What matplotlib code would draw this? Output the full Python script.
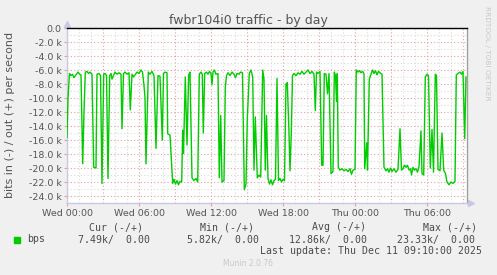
import matplotlib
matplotlib.use("Agg")
import matplotlib.pyplot as plt
from matplotlib.patches import Rectangle
from matplotlib.ticker import FixedLocator, FuncFormatter

# minutes since Wed 00:00, inbound traffic in k bits/s (drawn negative)
minutes = [
    0, 5, 12.5, 20, 27.5, 35, 42.5, 50, 55, 62.5, 70, 78.5, 85, 91.5, 100, 107.5,
    115, 125, 133.5, 145, 150, 160, 167.5, 175, 183.5, 190, 197.5, 205, 213.5, 220,
    225, 232.5, 240, 250, 260, 270, 275, 282.5, 290, 300, 310, 316.5, 325, 332.5,
    340, 350, 360, 370, 377.5, 385, 390, 395, 406.5, 415, 425, 435, 445, 455, 465,
    476.5, 482.5, 490, 500, 503.5, 515, 528.5, 535, 542.5, 550, 557.5, 565, 573.5,
    578.5, 582.5, 591.5, 600, 608.5, 615, 625, 635, 645, 653.5, 661.5, 670, 676.5,
    681.5, 688.5, 697.5, 705, 712.5, 720, 725, 730, 736.5, 745, 755, 761.5, 768.5,
    775, 785, 791.5, 797.5, 805, 815, 825, 835, 842.5, 850, 860, 867.5, 877.5,
    886.5, 895, 901.5, 911.5, 920, 928.5, 935, 941.5, 951.5, 960, 968.5, 978.5, 985,
    991.5, 997.5, 1005, 1012.5, 1020, 1027.5, 1035, 1042.5, 1050, 1057.5, 1065,
    1072.5, 1080, 1087.5, 1095, 1101.5, 1110, 1115, 1121.5, 1127.5, 1135, 1145,
    1155, 1165, 1175, 1185, 1195, 1205, 1215, 1225, 1235, 1241.5, 1247.5, 1255,
    1265, 1273.5, 1280, 1286.5, 1295, 1302.5, 1310, 1320, 1330, 1336.5, 1342.5,
    1347.5, 1351.5, 1356.5, 1365, 1375, 1385, 1395, 1405, 1415, 1422.5, 1430, 1440,
    1446.5, 1455, 1462.5, 1470, 1477.5, 1485, 1488.5, 1498.5, 1502.5, 1511.5, 1520,
    1527.5, 1535, 1542.5, 1550, 1557.5, 1565, 1575, 1585, 1595, 1602.5, 1610,
    1617.5, 1625, 1635, 1645, 1655, 1665, 1672.5, 1680, 1687.5, 1695, 1702.5, 1710,
    1717.5, 1722.5, 1730, 1737.5, 1745, 1752.5, 1760, 1770, 1775, 1783.5, 1791.5,
    1800, 1807.5, 1816.5, 1825, 1832.5, 1841.5, 1847.5, 1855, 1865, 1875, 1883.5,
    1892.5, 1900, 1910, 1920, 1930, 1940, 1946.5, 1955, 1965, 1972.5, 1980, 1988.5,
    1995,
]
bps_in_k = [
    -15.6, -10.0, -6.5, -6.8, -6.6, -7.1, -6.8, -6.5, -6.3, -6.6, -6.7, -19.4, -12.0,
    -6.3, -6.2, -6.5, -6.3, -6.6, -19.9, -20.0, -6.6, -6.5, -6.8, -22.2, -6.6, -6.5,
    -6.8, -21.5, -6.8, -6.5, -7.3, -6.8, -6.3, -6.6, -6.4, -6.6, -14.4, -6.5, -6.3,
    -6.6, -6.4, -11.7, -6.6, -7.0, -6.7, -6.3, -6.5, -6.0, -6.3, -8.2, -10.0, -19.4,
    -6.3, -6.6, -6.2, -6.8, -17.2, -6.8, -6.9, -16.0, -6.5, -6.3, -6.4, -15.1, -15.3,
    -22.2, -21.6, -22.3, -21.8, -22.4, -21.9, -22.0, -14.6, -17.9, -7.0, -16.7, -6.7,
    -6.3, -21.4, -21.8, -21.5, -22.0, -6.6, -6.3, -6.6, -15.0, -6.5, -6.3, -6.6,
    -6.2, -6.5, -8.1, -6.3, -6.0, -6.6, -6.5, -21.4, -12.5, -22.0, -21.8, -8.5, -6.8,
    -6.4, -6.8, -6.3, -6.6, -7.1, -6.5, -6.6, -6.3, -6.4, -23.1, -22.3, -13.0, -6.5,
    -6.0, -7.0, -20.3, -12.7, -21.4, -21.0, -21.3, -6.0, -7.3, -20.3, -12.5, -21.5,
    -22.3, -21.7, -22.4, -21.8, -21.6, -7.2, -21.8, -21.5, -22.0, -21.6, -21.8, -8.0,
    -7.8, -15.0, -20.4, -15.0, -6.8, -6.5, -6.8, -6.4, -6.6, -6.2, -6.6, -6.3, -6.0,
    -6.5, -6.2, -6.6, -11.8, -6.3, -6.5, -6.2, -19.6, -19.6, -6.5, -6.6, -9.4, -6.5,
    -20.8, -20.5, -6.3, -6.8, -10.5, -6.5, -19.9, -20.3, -20.1, -20.4, -20.2, -20.5,
    -20.1, -20.9, -20.3, -20.2, -6.0, -6.3, -6.1, -6.4, -6.2, -6.5, -20.1, -16.4,
    -20.3, -7.3, -6.6, -6.0, -6.5, -6.1, -6.7, -6.2, -6.4, -6.6, -19.9, -20.4, -20.1,
    -20.6, -20.0, -20.5, -20.1, -20.6, -20.2, -14.4, -20.3, -20.1, -19.6, -19.9,
    -19.6, -20.3, -20.1, -21.0, -19.9, -20.3, -20.1, -20.6, -19.8, -14.7, -20.8,
    -21.0, -7.0, -6.6, -6.8, -20.0, -14.5, -20.6, -6.6, -6.8, -20.2, -20.4, -15.0,
    -20.3, -20.8, -22.0, -22.4, -22.0, -22.2, -21.9, -6.7, -6.5, -6.3, -6.6, -6.2,
    -15.8, -7.0,
]
x_tick_pos = [0, 360, 720, 1080, 1440, 1800]
x_tick_labels = ["Wed 00:00", "Wed 06:00", "Wed 12:00", "Wed 18:00", "Thu 00:00", "Thu 06:00"]

legend_cols = ["Cur (-/+)", "Min (-/+)", "Avg (-/+)", "Max (-/+)"]
legend_vals = ["7.49k/  0.00", "5.82k/  0.00", "12.86k/  0.00", "23.33k/  0.00"]

W, H = 497, 275
TXT = "#555555"
GREEN = "#00cc00"
MINOR = "#dadada"
MAJOR = "#e3a0a0"
AXIS = "#c8c8e4"


def px(x, y):
    return x / W, 1 - y / H


fig = plt.figure(figsize=(W / 100, H / 100), dpi=100, facecolor="#f0f0f0")
ax = fig.add_axes([67 / W, 1 - 203 / H, 400 / W, 175 / H])
ax.set_facecolor("white")
ax.set_xlim(0, 2000)
ax.set_ylim(-25000, 0)

# grid: minor every hour / 1k, major every 3 hours / 2k
for m in range(60, 2000, 60):
    ax.axvline(m, color=MAJOR if m % 180 == 0 else MINOR, lw=0.8,
               ls=(0, (1, 2)), zorder=1)
for v in range(-24000, 0, 1000):
    ax.axhline(v, color=MAJOR if v % 2000 == 0 else MINOR, lw=0.8,
               ls=(0, (1, 2)), zorder=1)

ax.plot(minutes, [v * 1000 for v in bps_in_k], color=GREEN, lw=1.0, zorder=3)
ax.axhline(0, color="black", lw=1.0, zorder=4, clip_on=False)

ax.xaxis.set_major_locator(FixedLocator(x_tick_pos))
ax.set_xticklabels(x_tick_labels)
ax.yaxis.set_major_locator(FixedLocator(list(range(-24000, 1, 2000))))
ax.yaxis.set_major_formatter(
    FuncFormatter(lambda v, p: "0.0" if v == 0 else f"{v / 1000:.1f} k"))
ax.tick_params(axis="both", labelsize=6.8, labelcolor=TXT, length=2,
               color=MAJOR, pad=2)

for s in ("top",):
    ax.spines[s].set_visible(False)
ax.spines["left"].set_color(AXIS)
ax.spines["bottom"].set_color(AXIS)
ax.spines["right"].set_color("#a0a0a0")
for s in ("left", "bottom", "right"):
    ax.spines[s].set_linewidth(1.0)
ax.plot([0], [1.025], marker="^", ms=4, color=AXIS, transform=ax.transAxes,
        clip_on=False)
ax.plot([1.01], [0], marker=">", ms=4, color=AXIS, transform=ax.transAxes,
        clip_on=False)

fig.text(*px(248, 24), "fwbr104i0 traffic - by day", ha="center", va="baseline",
         fontsize=9, color=TXT)
fig.text(*px(10.5, 115), "bits in (-) / out (+) per second", rotation=90,
         ha="center", va="center", fontsize=8, color=TXT)
fig.text(*px(487.5, 53), "RRDTOOL / TOBI OETIKER", rotation=270, ha="center",
         va="center", fontsize=5.3, color="#c8c8c8")

mono = dict(family="DejaVu Sans Mono", fontsize=7.1, color="#4a4a4a", va="center")
head_x = [89, 200, 311.7, 422.7]
val_x = [78.3, 186.7, 289.3, 396.7]
for hx, label in zip(head_x, legend_cols):
    fig.text(*px(hx, 227.5), label, ha="left", **mono)
fig.patches.append(Rectangle(px(14, 242.5), 5.5 / W, 5.5 / H, color=GREEN,
                             transform=fig.transFigure, figure=fig))
fig.text(*px(26.7, 239.5), "bps", ha="left", **mono)
for vx, val in zip(val_x, legend_vals):
    fig.text(*px(vx, 239.5), val, ha="left", **mono)
fig.text(*px(482.3, 251), "Last update: Thu Dec 11 09:10:00 2025", ha="right", **mono)
fig.text(*px(248, 264), "Munin 2.0.76", ha="center", va="center", fontsize=5.5,
         color="#c8c8c8")

fig.savefig("out.png", dpi=100, facecolor=fig.get_facecolor())
